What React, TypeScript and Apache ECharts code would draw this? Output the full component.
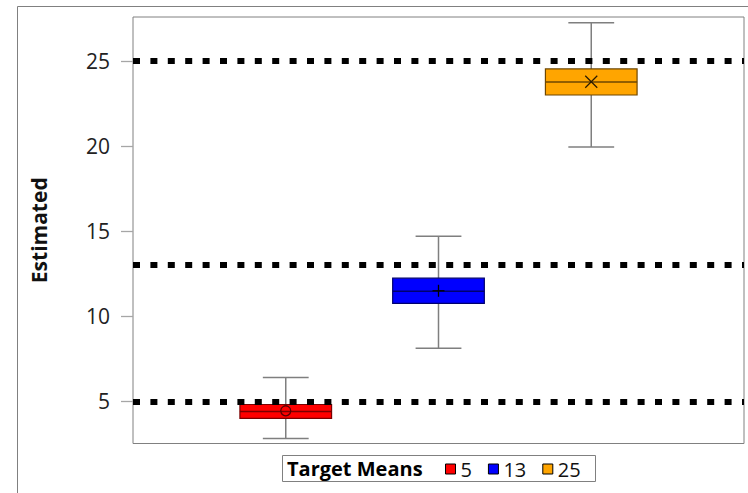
import React, { useEffect, useRef } from "react";
import * as echarts from "echarts";

const groups = ["5", "13", "25"];
const mins = [2.82, 8.12, 19.94];
const q1s = [4.0, 10.76, 23.0];
const medians = [4.41, 11.47, 23.76];
const q3s = [4.82, 12.24, 24.53];
const maxs = [6.41, 14.7, 27.24];
const means = [4.45, 11.5, 23.78];
const targetMeans = [5, 13, 25];
const yTicks = [5, 10, 15, 20, 25];
const fills = ["#ff0000", "#0000ff", "#ffa500"];
const strokes = ["#7a0000", "#00006e", "#6e4700"];
const markers = ["circle", "plus", "cross"];

const FONT = "Open Sans";

function makeRenderItem(idx: number) {
  return (params: any, api: any) => {
    const x = api.value(0);
    const pMin = api.coord([x, api.value(1)]);
    const pQ1 = api.coord([x, api.value(2)]);
    const pMed = api.coord([x, api.value(3)]);
    const pQ3 = api.coord([x, api.value(4)]);
    const pMax = api.coord([x, api.value(5)]);
    const pMean = api.coord([x, api.value(6)]);
    const w = api.size([0.6, 0])[0];
    const cap = w / 2;
    const cx = pMed[0];
    const whisker = { stroke: "#7f7f7f", lineWidth: 1.5 };
    const children: any[] = [
      { type: "line", shape: { x1: cx, y1: pQ3[1], x2: cx, y2: pMax[1] }, style: whisker },
      { type: "line", shape: { x1: cx, y1: pQ1[1], x2: cx, y2: pMin[1] }, style: whisker },
      { type: "line", shape: { x1: cx - cap / 2, y1: pMax[1], x2: cx + cap / 2, y2: pMax[1] }, style: whisker },
      { type: "line", shape: { x1: cx - cap / 2, y1: pMin[1], x2: cx + cap / 2, y2: pMin[1] }, style: whisker },
      {
        type: "rect",
        shape: { x: cx - w / 2, y: pQ3[1], width: w, height: pQ1[1] - pQ3[1] },
        style: { fill: fills[idx], stroke: strokes[idx], lineWidth: 1.2 },
      },
      {
        type: "line",
        shape: { x1: cx - w / 2, y1: pMed[1], x2: cx + w / 2, y2: pMed[1] },
        style: { stroke: strokes[idx], lineWidth: 1.5 },
      },
    ];
    const m = markers[idx];
    const mx = pMean[0];
    const my = pMean[1];
    const ms = { stroke: "#2a1a00", lineWidth: 1.3, fill: "none" };
    if (m === "circle") {
      children.push({ type: "circle", shape: { cx: mx, cy: my, r: 5 }, style: { stroke: "#5a0000", lineWidth: 1.3, fill: "none" } });
    } else if (m === "plus") {
      children.push({ type: "line", shape: { x1: mx - 6, y1: my, x2: mx + 6, y2: my }, style: { ...ms, stroke: "#000" } });
      children.push({ type: "line", shape: { x1: mx, y1: my - 6, x2: mx, y2: my + 6 }, style: { ...ms, stroke: "#000" } });
    } else {
      children.push({ type: "line", shape: { x1: mx - 6, y1: my - 6, x2: mx + 6, y2: my + 6 }, style: ms });
      children.push({ type: "line", shape: { x1: mx - 6, y1: my + 6, x2: mx + 6, y2: my - 6 }, style: ms });
    }
    return { type: "group", children };
  };
}

export default function App() {
  const ref = useRef<HTMLDivElement>(null);
  useEffect(() => {
    if (!ref.current) return;
    const chart = echarts.init(ref.current, null, { renderer: "svg" });
    const boxSeries = groups.map((g, i) => ({
      type: "custom",
      name: g,
      itemStyle: { color: fills[i] },
      renderItem: makeRenderItem(i),
      encode: { x: 0, y: [1, 2, 3, 4, 5, 6] },
      data: [[i + 1, mins[i], q1s[i], medians[i], q3s[i], maxs[i], means[i]]],
      z: 3,
    }));
    chart.setOption({
      animation: false,
      backgroundColor: "#ffffff",
      grid: {
        left: 133,
        top: 17,
        right: 4,
        bottom: 49.5,
        show: true,
        borderColor: "#808080",
        borderWidth: 1,
        backgroundColor: "transparent",
      },
      xAxis: {
        type: "value",
        min: 0,
        max: 4,
        show: false,
      },
      yAxis: {
        type: "value",
        min: 2.53,
        max: 27.58,
        name: "Estimated",
        nameLocation: "middle",
        nameGap: 84,
        nameTextStyle: { fontFamily: FONT, fontSize: 21, fontWeight: "bold", color: "#111" },
        axisLine: { show: false },
        axisTick: { show: true, length: 12, customValues: yTicks, lineStyle: { color: "#a6a6a6", width: 1.3 } },
        axisLabel: { customValues: yTicks, margin: 23, fontFamily: FONT, fontSize: 21, color: "#222" },
        splitLine: { show: false },
      },
      legend: {
        data: groups,
        left: 445,
        top: 459,
        padding: 0,
        itemWidth: 10,
        itemHeight: 10,
        itemGap: 16,
        icon: "rect",
        itemStyle: { borderColor: "#000", borderWidth: 1 },
        textStyle: { fontFamily: FONT, fontSize: 20, color: "#111" },
      },
      graphic: [
        { type: "line", shape: { x1: 17.5, y1: 6.5, x2: 17.5, y2: 493 }, style: { stroke: "#808080", lineWidth: 1 } },
        { type: "line", shape: { x1: 17.5, y1: 6.5, x2: 748, y2: 6.5 }, style: { stroke: "#808080", lineWidth: 1 } },
        {
          type: "rect",
          shape: { x: 282.5, y: 455.5, width: 313, height: 26 },
          style: { fill: "#fff", stroke: "#808080", lineWidth: 1 },
          z: -1,
        },
        {
          type: "text",
          x: 287,
          y: 468,
          style: { text: "Target Means", fontFamily: FONT, fontSize: 20, fontWeight: "bold", fill: "#000", verticalAlign: "middle" },
        },
      ],
      series: [
        ...boxSeries,
        {
          type: "line",
          name: "Targets",
          data: [],
          silent: true,
          z: 2,
          markLine: {
            silent: true,
            symbol: ["none", "none"],
            label: { show: false },
            lineStyle: { color: "#000", width: 6, type: [7, 10.4], cap: "butt" },
            data: targetMeans.map((v) => ({ yAxis: v })),
          },
        },
      ],
    });
    return () => chart.dispose();
  }, []);
  return (
    <div
      ref={ref}
      style={{ position: "fixed", left: 0, top: 0, width: 748, height: 493 }}
    />
  );
}
